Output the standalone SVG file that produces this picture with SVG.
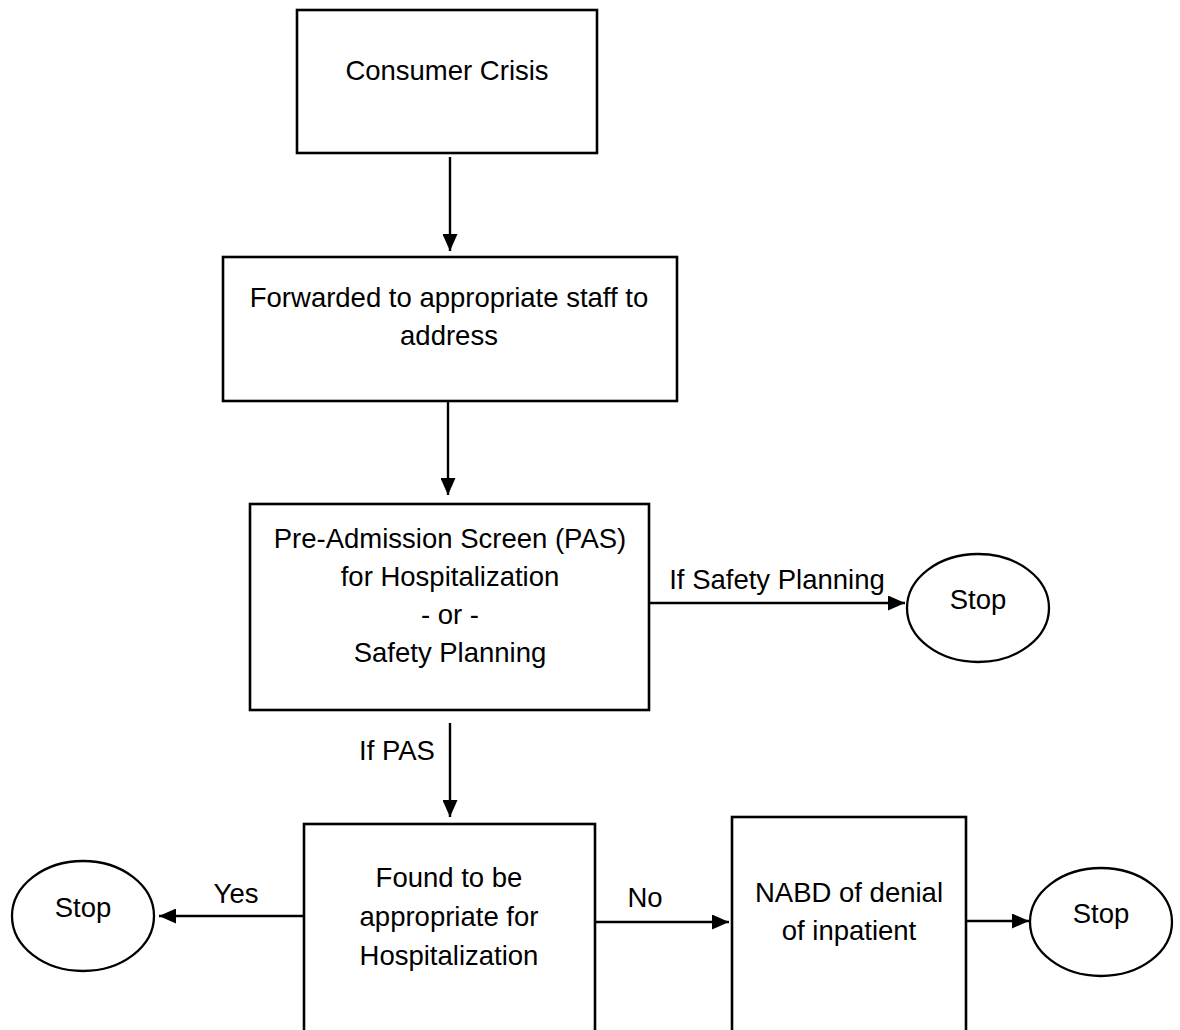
<svg xmlns="http://www.w3.org/2000/svg" width="1180" height="1030" viewBox="0 0 1180 1030">
<defs>
<style>
.box{fill:#fff;stroke:#000;stroke-width:2.6}
.term{fill:#fff;stroke:#000;stroke-width:2.3}
.t{font-family:"Liberation Sans",Arial,sans-serif;font-size:27.5px;fill:#000;text-anchor:middle}
.c{stroke:#000;stroke-width:2.4;fill:none;marker-end:url(#ah)}
</style>
<marker id="ah" markerUnits="userSpaceOnUse" markerWidth="17" markerHeight="15" refX="17" refY="7.5" orient="auto">
<path d="M0,0 L17,7.5 L0,15 z" fill="#000"/>
</marker>
</defs>
<rect width="1180" height="1030" fill="#fff"/>
<g id="connectors">
<line class="c" x1="450" y1="157" x2="450" y2="251"/>
<line class="c" x1="448" y1="401" x2="448" y2="495"/>
<line class="c" x1="645" y1="603" x2="905" y2="603"/>
<line class="c" x1="450" y1="723" x2="450" y2="817"/>
<line class="c" x1="304" y1="916" x2="159" y2="916"/>
<line class="c" x1="595" y1="922" x2="729" y2="922"/>
<line class="c" x1="966" y1="921" x2="1029" y2="921"/>
<text class="t" x="777" y="589">If Safety Planning</text>
<text class="t" x="397" y="760">If PAS</text>
<text class="t" x="236" y="903">Yes</text>
<text class="t" x="645" y="907">No</text>
</g>
<g id="consumer-crisis">
<rect class="box" x="297" y="10" width="300" height="143"/>
<text class="t" x="447" y="80">Consumer Crisis</text>
</g>
<g id="forwarded">
<rect class="box" x="223" y="257" width="454" height="144"/>
<text class="t" x="449" y="307">Forwarded to appropriate staff to</text>
<text class="t" x="449" y="345">address</text>
</g>
<g id="pas">
<rect class="box" x="250" y="504" width="399" height="206"/>
<text class="t" x="450" y="548">Pre-Admission Screen (PAS)</text>
<text class="t" x="450" y="586">for Hospitalization</text>
<text class="t" x="450" y="624">- or -</text>
<text class="t" x="450" y="662">Safety Planning</text>
</g>
<g id="stop-safety">
<ellipse class="term" cx="978" cy="608" rx="71" ry="54"/>
<text class="t" x="978" y="609">Stop</text>
</g>
<g id="found-appropriate">
<rect class="box" x="304" y="824" width="291" height="230"/>
<text class="t" x="449" y="887">Found to be</text>
<text class="t" x="449" y="926">appropriate for</text>
<text class="t" x="449" y="965">Hospitalization</text>
</g>
<g id="stop-yes">
<ellipse class="term" cx="83" cy="916" rx="71" ry="55"/>
<text class="t" x="83" y="917">Stop</text>
</g>
<g id="nabd">
<rect class="box" x="732" y="817" width="234" height="237"/>
<text class="t" x="849" y="902">NABD of denial</text>
<text class="t" x="849" y="940">of inpatient</text>
</g>
<g id="stop-nabd">
<ellipse class="term" cx="1101" cy="922" rx="71" ry="54"/>
<text class="t" x="1101" y="923">Stop</text>
</g>
</svg>
